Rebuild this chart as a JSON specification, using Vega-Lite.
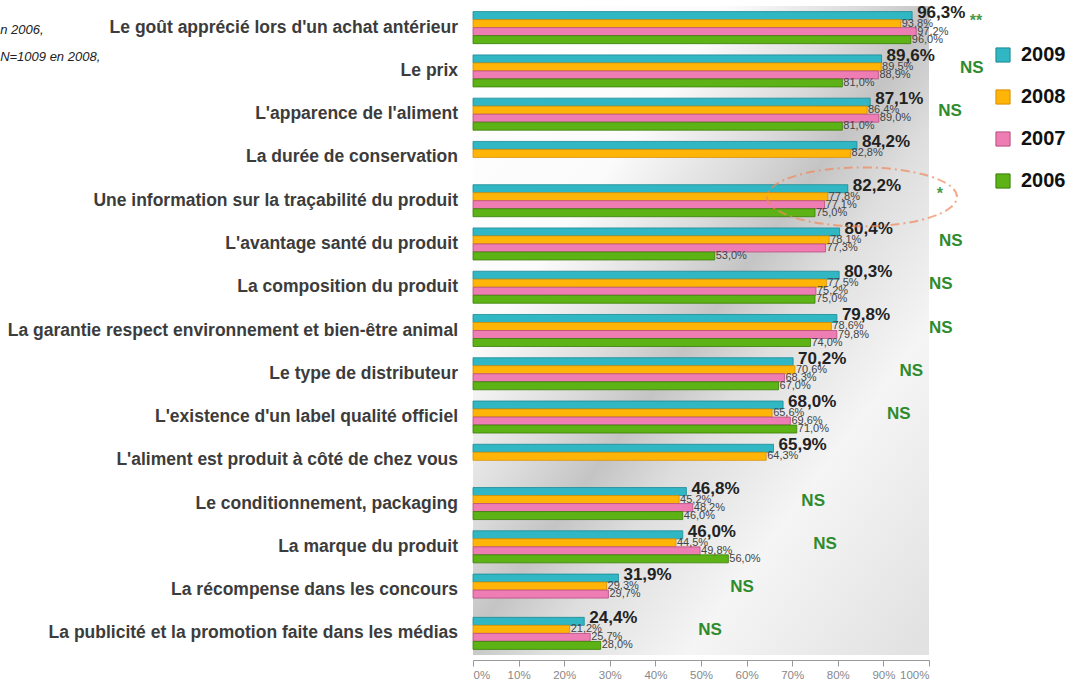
{
  "$schema": "https://vega.github.io/schema/vega-lite/v6.json",
  "width": 456,
  "height": 649,
  "autosize": {"type": "none"},
  "padding": {"left": 473, "top": 6, "right": 138, "bottom": 28},
  "background": "#ffffff",
  "config": {
    "view": {"stroke": null},
    "font": "Liberation Sans"
  },
  "datasets": {
    "survey": [
      {"cat": "Le goût apprécié lors d'un achat antérieur", "year": "2009", "v": 96.3},
      {"cat": "Le goût apprécié lors d'un achat antérieur", "year": "2008", "v": 93.8},
      {"cat": "Le goût apprécié lors d'un achat antérieur", "year": "2007", "v": 97.2},
      {"cat": "Le goût apprécié lors d'un achat antérieur", "year": "2006", "v": 96.0},
      {"cat": "Le prix", "year": "2009", "v": 89.6},
      {"cat": "Le prix", "year": "2008", "v": 89.5},
      {"cat": "Le prix", "year": "2007", "v": 88.9},
      {"cat": "Le prix", "year": "2006", "v": 81.0},
      {"cat": "L'apparence de l'aliment", "year": "2009", "v": 87.1},
      {"cat": "L'apparence de l'aliment", "year": "2008", "v": 86.4},
      {"cat": "L'apparence de l'aliment", "year": "2007", "v": 89.0},
      {"cat": "L'apparence de l'aliment", "year": "2006", "v": 81.0},
      {"cat": "La durée de conservation", "year": "2009", "v": 84.2},
      {"cat": "La durée de conservation", "year": "2008", "v": 82.8},
      {"cat": "Une information sur la traçabilité du produit", "year": "2009", "v": 82.2},
      {"cat": "Une information sur la traçabilité du produit", "year": "2008", "v": 77.8},
      {"cat": "Une information sur la traçabilité du produit", "year": "2007", "v": 77.1},
      {"cat": "Une information sur la traçabilité du produit", "year": "2006", "v": 75.0},
      {"cat": "L'avantage santé du produit", "year": "2009", "v": 80.4},
      {"cat": "L'avantage santé du produit", "year": "2008", "v": 78.1},
      {"cat": "L'avantage santé du produit", "year": "2007", "v": 77.3},
      {"cat": "L'avantage santé du produit", "year": "2006", "v": 53.0},
      {"cat": "La composition du produit", "year": "2009", "v": 80.3},
      {"cat": "La composition du produit", "year": "2008", "v": 77.5},
      {"cat": "La composition du produit", "year": "2007", "v": 75.2},
      {"cat": "La composition du produit", "year": "2006", "v": 75.0},
      {"cat": "La garantie respect environnement et bien-être animal", "year": "2009", "v": 79.8},
      {"cat": "La garantie respect environnement et bien-être animal", "year": "2008", "v": 78.6},
      {"cat": "La garantie respect environnement et bien-être animal", "year": "2007", "v": 79.8},
      {"cat": "La garantie respect environnement et bien-être animal", "year": "2006", "v": 74.0},
      {"cat": "Le type de distributeur", "year": "2009", "v": 70.2},
      {"cat": "Le type de distributeur", "year": "2008", "v": 70.6},
      {"cat": "Le type de distributeur", "year": "2007", "v": 68.3},
      {"cat": "Le type de distributeur", "year": "2006", "v": 67.0},
      {"cat": "L'existence d'un label qualité officiel", "year": "2009", "v": 68.0},
      {"cat": "L'existence d'un label qualité officiel", "year": "2008", "v": 65.6},
      {"cat": "L'existence d'un label qualité officiel", "year": "2007", "v": 69.6},
      {"cat": "L'existence d'un label qualité officiel", "year": "2006", "v": 71.0},
      {"cat": "L'aliment est produit à côté de chez vous", "year": "2009", "v": 65.9},
      {"cat": "L'aliment est produit à côté de chez vous", "year": "2008", "v": 64.3},
      {"cat": "Le conditionnement, packaging", "year": "2009", "v": 46.8},
      {"cat": "Le conditionnement, packaging", "year": "2008", "v": 45.2},
      {"cat": "Le conditionnement, packaging", "year": "2007", "v": 48.2},
      {"cat": "Le conditionnement, packaging", "year": "2006", "v": 46.0},
      {"cat": "La marque du produit", "year": "2009", "v": 46.0},
      {"cat": "La marque du produit", "year": "2008", "v": 44.5},
      {"cat": "La marque du produit", "year": "2007", "v": 49.8},
      {"cat": "La marque du produit", "year": "2006", "v": 56.0},
      {"cat": "La récompense dans les concours", "year": "2009", "v": 31.9},
      {"cat": "La récompense dans les concours", "year": "2008", "v": 29.3},
      {"cat": "La récompense dans les concours", "year": "2007", "v": 29.7},
      {"cat": "La publicité et la promotion faite dans les médias", "year": "2009", "v": 24.4},
      {"cat": "La publicité et la promotion faite dans les médias", "year": "2008", "v": 21.2},
      {"cat": "La publicité et la promotion faite dans les médias", "year": "2007", "v": 25.7},
      {"cat": "La publicité et la promotion faite dans les médias", "year": "2006", "v": 28.0}
    ],
    "sig": [
      {"cat": "Le goût apprécié lors d'un achat antérieur", "sig": "**", "pos": 110.3},
      {"cat": "Le prix", "sig": "NS", "pos": 109.4},
      {"cat": "L'apparence de l'aliment", "sig": "NS", "pos": 104.6},
      {"cat": "Une information sur la traçabilité du produit", "sig": "*", "pos": 102.4},
      {"cat": "L'avantage santé du produit", "sig": "NS", "pos": 104.8},
      {"cat": "La composition du produit", "sig": "NS", "pos": 102.6},
      {"cat": "La garantie respect environnement et bien-être animal", "sig": "NS", "pos": 102.6},
      {"cat": "Le type de distributeur", "sig": "NS", "pos": 96.1},
      {"cat": "L'existence d'un label qualité officiel", "sig": "NS", "pos": 93.4},
      {"cat": "Le conditionnement, packaging", "sig": "NS", "pos": 74.6},
      {"cat": "La marque du produit", "sig": "NS", "pos": 77.2},
      {"cat": "La récompense dans les concours", "sig": "NS", "pos": 59.0},
      {"cat": "La publicité et la promotion faite dans les médias", "sig": "NS", "pos": 52.0}
    ],
    "highlight": [
      {"cat": "Une information sur la traçabilité du produit", "pos": 85.3}
    ],
    "note": [
      {"cat": "Le goût apprécié lors d'un achat antérieur", "pos": -103.7, "note": ["n 2006,", "N=1009 en 2008,"]}
    ],
    "bg": [{"from": 0, "to": 100}]
  },
  "layer": [
    {
      "data": {"name": "bg"},
      "mark": {
        "type": "rect",
        "fill": {
          "gradient": "linear",
          "x1": 0, "y1": 0, "x2": 0.95, "y2": 1,
          "stops": [
            {"offset": 0, "color": "#ffffff"},
            {"offset": 0.28, "color": "#fbfbfb"},
            {"offset": 0.42, "color": "#dcdcdc"},
            {"offset": 0.51, "color": "#c4c4c4"},
            {"offset": 0.6, "color": "#dedede"},
            {"offset": 0.76, "color": "#f5f5f5"},
            {"offset": 1, "color": "#e2e2e2"}
          ]
        }
      },
      "encoding": {
        "x": {"field": "from", "type": "quantitative", "scale": {"domain": [0, 100]}},
        "x2": {"field": "to"}
      }
    },
    {
      "data": {"name": "survey"},
      "mark": {"type": "bar", "strokeWidth": 0.8},
      "encoding": {
        "y": {
          "field": "cat", "type": "nominal", "sort": null,
          "scale": {
            "domain": [
              "Le goût apprécié lors d'un achat antérieur", "Le prix", "L'apparence de l'aliment",
              "La durée de conservation", "Une information sur la traçabilité du produit",
              "L'avantage santé du produit", "La composition du produit",
              "La garantie respect environnement et bien-être animal", "Le type de distributeur",
              "L'existence d'un label qualité officiel", "L'aliment est produit à côté de chez vous",
              "Le conditionnement, packaging", "La marque du produit",
              "La récompense dans les concours", "La publicité et la promotion faite dans les médias"
            ],
            "paddingInner": 0.26, "paddingOuter": 0.13
          },
          "axis": null
        },
        "yOffset": {
          "field": "year", "type": "nominal",
          "scale": {"domain": ["2009", "2008", "2007", "2006"], "paddingInner": 0, "paddingOuter": 0}
        },
        "x": {
          "field": "v", "type": "quantitative",
          "scale": {"domain": [0, 100], "nice": false},
          "axis": {
            "title": null, "values": [0, 10, 20, 30, 40, 50, 60, 70, 80, 90, 100],
            "labelExpr": "datum.value + '%'", "grid": false, "offset": 5,
            "domainColor": "#999999", "tickColor": "#999999", "tickSize": 6,
            "labelColor": "#888888", "labelFontSize": 11.5, "labelPadding": 3
          }
        },
        "color": {
          "field": "year", "type": "nominal",
          "scale": {"domain": ["2009", "2008", "2007", "2006"], "range": ["#31b7c3", "#ffb508", "#ee7db4", "#5db316"]},
          "legend": {
            "title": null, "orient": "none", "legendX": 520, "legendY": 39,
            "symbolType": "square", "symbolSize": 200, "symbolStrokeWidth": 1,
            "labelFontSize": 20, "labelFontWeight": "bold", "labelColor": "#111111",
            "labelOffset": 8, "rowPadding": 22
          }
        },
        "stroke": {
          "field": "year", "type": "nominal",
          "scale": {"domain": ["2009", "2008", "2007", "2006"], "range": ["#1c8a95", "#d98f00", "#b64e80", "#3a7d08"]},
          "legend": null
        }
      }
    },
    {
      "data": {"name": "survey"},
      "transform": [{"filter": "datum.year == '2009'"}],
      "mark": {"type": "text", "align": "right", "baseline": "middle", "dx": -15, "fontSize": 17.5, "fontWeight": "bold", "fill": "#3c3c3c"},
      "encoding": {
        "y": {"field": "cat", "type": "nominal", "sort": null},
        "x": {"datum": 0},
        "text": {"field": "cat"}
      }
    },
    {
      "data": {"name": "survey"},
      "transform": [
        {"filter": "datum.year != '2009'"},
        {"calculate": "replace(format(datum.v, '.1f'), '.', ',') + '%'", "as": "label"}
      ],
      "mark": {"type": "text", "align": "left", "baseline": "middle", "dx": 1, "fontSize": 11, "fill": "#444444"},
      "encoding": {
        "y": {"field": "cat", "type": "nominal", "sort": null},
        "yOffset": {"field": "year", "type": "nominal"},
        "x": {"field": "v", "type": "quantitative"},
        "text": {"field": "label"}
      }
    },
    {
      "data": {"name": "survey"},
      "transform": [
        {"filter": "datum.year == '2009'"},
        {"calculate": "replace(format(datum.v, '.1f'), '.', ',') + '%'", "as": "label"}
      ],
      "mark": {"type": "text", "align": "left", "baseline": "middle", "dx": 5, "dy": -3, "fontSize": 17, "fontWeight": "bold", "fill": "#222222"},
      "encoding": {
        "y": {"field": "cat", "type": "nominal", "sort": null},
        "yOffset": {"field": "year", "type": "nominal"},
        "x": {"field": "v", "type": "quantitative"},
        "text": {"field": "label"}
      }
    },
    {
      "data": {"name": "sig"},
      "transform": [{"filter": "datum.sig == 'NS'"}],
      "mark": {"type": "text", "align": "center", "baseline": "middle", "dy": -3, "fontSize": 17, "fontWeight": "bold", "fill": "#2e8b2e"},
      "encoding": {
        "y": {"field": "cat", "type": "nominal", "sort": null},
        "x": {"field": "pos", "type": "quantitative"},
        "text": {"field": "sig"}
      }
    },
    {
      "data": {"name": "sig"},
      "transform": [{"filter": "datum.sig != 'NS'"}],
      "mark": {"type": "text", "align": "center", "baseline": "middle", "dy": -7, "fontSize": 16, "fontWeight": "bold", "fill": "#4a9a4a"},
      "encoding": {
        "y": {"field": "cat", "type": "nominal", "sort": null},
        "x": {"field": "pos", "type": "quantitative"},
        "text": {"field": "sig"}
      }
    },
    {
      "data": {"name": "highlight"},
      "mark": {
        "type": "point", "filled": false, "stroke": "#f08a5d", "strokeWidth": 2,
        "strokeDash": [9, 4, 2, 4], "size": 36100,
        "shape": "M -1 -0.04 A 1 0.31 0 1 0 1 -0.04 A 1 0.31 0 1 0 -1 -0.04 Z"
      },
      "encoding": {
        "y": {"field": "cat", "type": "nominal", "sort": null},
        "x": {"field": "pos", "type": "quantitative"}
      }
    },
    {
      "data": {"name": "note"},
      "mark": {"type": "text", "align": "left", "baseline": "alphabetic", "dy": 6, "lineHeight": 27, "fontSize": 13, "fontStyle": "italic", "fill": "#222222"},
      "encoding": {
        "y": {"field": "cat", "type": "nominal", "sort": null},
        "x": {"field": "pos", "type": "quantitative"},
        "text": {"field": "note"}
      }
    }
  ]
}
